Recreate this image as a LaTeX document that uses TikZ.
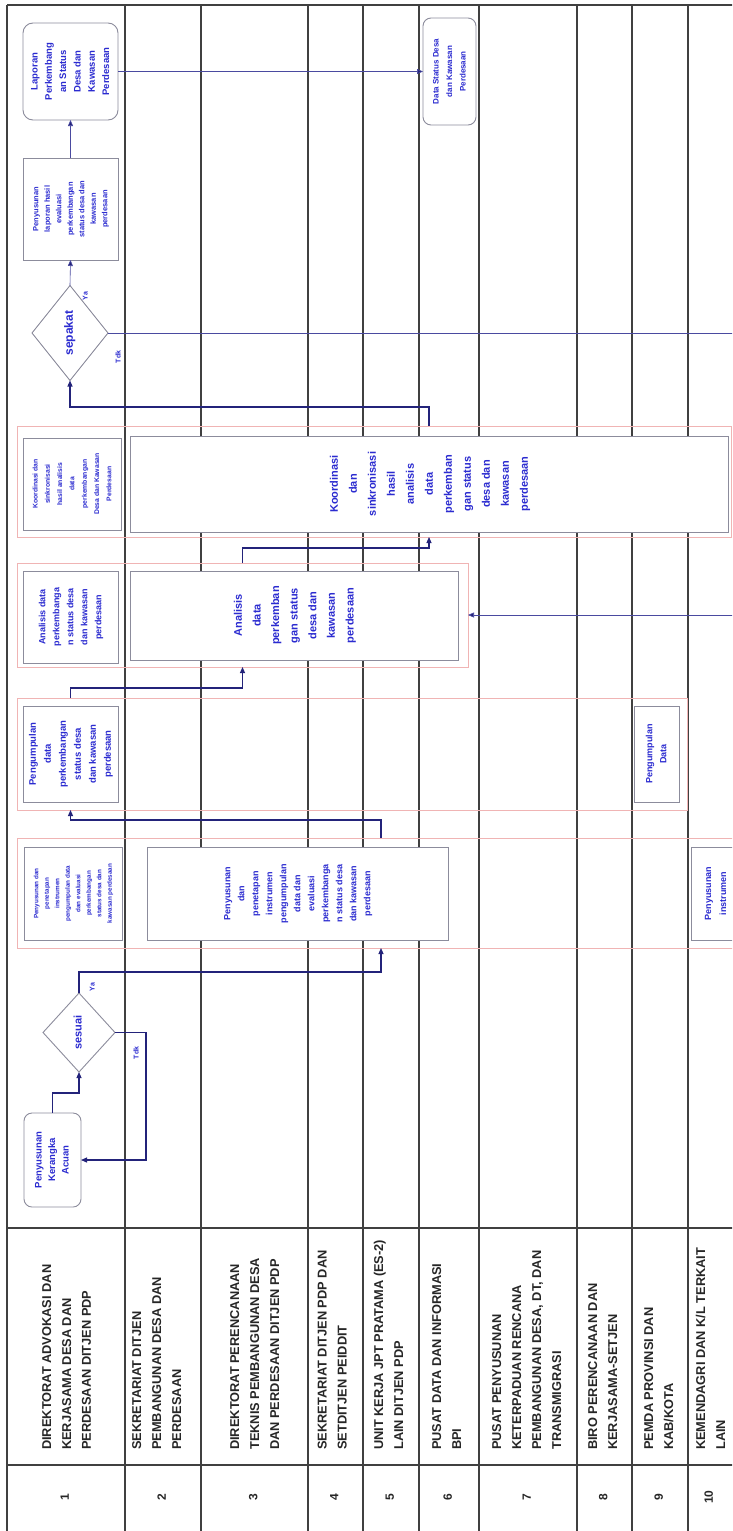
\documentclass[tikz,border=0pt]{standalone}
\usepackage{graphicx}
\usepackage{fontspec}
\setmainfont{Liberation Sans}
\usetikzlibrary{shapes.geometric,arrows.meta,calc}
\definecolor{lanec}{HTML}{404040}
\definecolor{boxc}{HTML}{8C8C9C}
\definecolor{bandc}{HTML}{F0B4B4}
\definecolor{conc}{HTML}{23237A}
\definecolor{thinc}{HTML}{4A4AA0}
\definecolor{txtc}{HTML}{2B2BD0}
\newcommand{\rtx}[4]{\rotatebox{90}{\fontsize{#1}{#2}\selectfont\begin{tabular}{@{}#3@{}}#4\end{tabular}}}
\tikzset{
 lane/.style={draw=lanec, line width=1.4pt},
 band/.style={draw=bandc, line width=0.7pt, inner sep=0pt, outer sep=0pt},
 pbox/.style={draw=boxc, line width=0.9pt, fill=white, inner sep=0pt, outer sep=0pt, text=txtc, font=\bfseries},
 rbox/.style={pbox},
 dec/.style={pbox, shape=diamond},
 conn/.style={draw=conc, line width=1.1pt},
 arr/.style={conn, -{Triangle[length=6pt,width=5pt]}},
 thin/.style={draw=thinc, line width=0.6pt},
 tarr/.style={thin, -{Triangle[length=6pt,width=5pt,fill=conc]}},
 lbl/.style={text=txtc, font=\bfseries, inner sep=0pt},
 head/.style={text=black!85, font=\bfseries, inner sep=0pt, anchor=south},
 num/.style={text=black!85, font=\bfseries, inner sep=0pt},
}
\begin{document}
\begin{tikzpicture}[x=1pt,y=-1pt]
\useasboundingbox (0,0) rectangle (732,1531);
\clip (0,0) rectangle (732,1531);
\fill[white] (0,0) rectangle (732,1531);

% lane grid
\foreach \x in {7,125,201,308,363,419,479,577,632,688}
  \draw[lane] (\x,5) -- (\x,1540);
\draw[lane] (7,5) -- (740,5);
\draw[lane] (7,1228) -- (740,1228);
\draw[lane] (7,1465) -- (740,1465);

% group bands
\node[band, minimum width=714, minimum height=111] (kband) at (374,481.5) {};
\node[band, minimum width=451, minimum height=104] (aband) at (242.5,615) {};
\node[band, minimum width=670, minimum height=112] (pband) at (352,754) {};
\node[band, minimum width=743, minimum height=110] (sband) at (388.5,893) {};

% boxes
\node[rbox, rounded corners=10pt, minimum width=95, minimum height=97] (lap) at (70.5,71.5)
  {\rtx{9.5}{14.3}{c}{Laporan\\Perkembang\\an Status\\Desa dan\\Kawasan\\Perdesaan}};
\node[pbox, minimum width=95, minimum height=102] (plap) at (70.5,209)
  {\rtx{7.5}{11.5}{c}{Penyusunan\\laporan hasil\\evaluasi\\perkembangan\\status desa dan\\kawasan\\perdesaan}};
\node[dec, minimum width=76, minimum height=95] (sepakat) at (70,333) {\rtx{12}{14}{c}{sepakat}};
\node[rbox, rounded corners=8pt, minimum width=53, minimum height=107] (dstat) at (449.5,71.5)
  {\rtx{8}{13.5}{c}{Data Status Desa\\dan Kawasan\\Perdesaan}};

\node[pbox, minimum width=98, minimum height=92] (ksmall) at (72,484)
  {\rtx{6.8}{12.3}{c}{Koordinasi dan\\sinkronisasi\\hasil analisis\\data\\perkembangan\\Desa dan Kawasan\\Perdesaan}};
\node[pbox, minimum width=598, minimum height=96] (kbig) at (429,484)
  {\rtx{11}{19}{c}{Koordinasi\\dan\\sinkronisasi\\hasil\\analisis\\data\\perkemban\\gan status\\desa dan\\kawasan\\perdesaan}};

\node[pbox, minimum width=95, minimum height=92] (asmall) at (70.5,617)
  {\rtx{9}{14}{c}{Analisis data\\perkembanga\\n status desa\\dan kawasan\\perdesaan}};
\node[pbox, minimum width=328, minimum height=89] (abig) at (294,615.5)
  {\rtx{11}{18.6}{c}{Analisis\\data\\perkemban\\gan status\\desa dan\\kawasan\\perdesaan}};

\node[pbox, minimum width=95, minimum height=96] (psmall) at (70.5,754)
  {\rtx{9.5}{15}{c}{Pengumpulan\\data\\perkembangan\\status desa\\dan kawasan\\perdesaan}};
\node[pbox, minimum width=45, minimum height=96] (p9) at (656.5,754)
  {\rtx{9}{14}{c}{Pengumpulan\\Data}};

\node[pbox, minimum width=98, minimum height=93] (ssmall) at (73,893.5)
  {\rtx{6.3}{10.5}{c}{Penyusunan dan\\penetapan\\instrumen\\pengumpulan data\\dan evaluasi\\perkembangan\\status desa dan\\kawasan perdesaan}};
\node[pbox, minimum width=301, minimum height=93] (sbig) at (297.5,893.5)
  {\rtx{9}{14}{c}{Penyusunan\\dan\\penetapan\\instrumen\\pengumpulan\\data dan\\evaluasi\\perkembanga\\n status desa\\dan kawasan\\perdesaan}};
\node[pbox, minimum width=49, minimum height=93] (s10) at (715.5,893.5)
  {\rtx{9}{15}{c}{Penyusunan\\instrumen}};

\node[dec, minimum width=72, minimum height=79] (sesuai) at (79,1032.5) {\rtx{11}{13}{c}{sesuai}};
\node[rbox, rounded corners=8pt, minimum width=57, minimum height=94] (kera) at (52.5,1160)
  {\rtx{9.5}{13.5}{c}{Penyusunan\\Kerangka\\Acuan}};

% decision labels
\node[lbl] (ya1) at (86,296) {\rtx{7}{8}{c}{Ya}};
\node[lbl] (tdk1) at (119,357) {\rtx{7}{8}{c}{Tdk}};
\node[lbl] (ya2) at (93,987) {\rtx{7}{8}{c}{Ya}};
\node[lbl] (tdk2) at (137,1053) {\rtx{7}{8}{c}{Tdk}};

% connectors
\draw[tarr] (plap.north) -- (lap.south);
\draw[tarr] (sepakat.north) -- (plap.south);
\draw[tarr] (lap.east) -- (dstat.west);
\coordinate (tdkA) at (740,333);
\coordinate (tdkB) at (740,615);
\draw[thin] (sepakat.east) -- (tdkA);
\draw[tarr] (tdkB) -- (aband.east);
\draw[arr] (kbig.north |- kband.north) -- ++(0,-19) -| (sepakat.south);
\draw[arr] (aband.north) -- ++(0,-15) -| (kbig.south |- kband.south);
\draw[arr] (psmall.north |- pband.north) -- ++(0,-10) -| (aband.south);
\coordinate (sx) at ([xshift=83.5pt]sbig.north);
\draw[arr] (sx |- sband.north) -- ++(0,-18) -| (psmall.south |- pband.south);
\draw[arr] (sesuai.north) -- ++(0,-21) -| (sx |- sband.south);
\draw[arr] (sesuai.east) -- ++(31,0) |- (kera.east);
\draw[arr] (kera.north) -- ++(0,-20) -| (sesuai.south);

% header texts
\node[head] (h1) at (67,1450) {\rtx{12.8}{20}{l}{DIREKTORAT ADVOKASI DAN\\KERJASAMA DESA DAN\\PERDESAAN DITJEN PDP}};
\node[head] (h2) at (157,1450) {\rtx{12.8}{20}{l}{SEKRETARIAT DITJEN\\PEMBANGUNAN DESA DAN\\PERDESAAN}};
\node[head] (h3) at (255,1450) {\rtx{12.8}{20}{l}{DIREKTORAT PERENCANAAN\\TEKNIS PEMBANGUNAN DESA\\DAN PERDESAAN DITJEN PDP}};
\node[head] (h4) at (332.5,1450) {\rtx{12.8}{20}{l}{SEKRETARIAT DITJEN PDP DAN\\SETDITJEN PEIDDIT}};
\node[head] (h5) at (389,1450) {\rtx{12.8}{20}{l}{UNIT KERJA JPT PRATAMA (ES-2)\\LAIN DITJEN PDP}};
\node[head] (h6) at (447,1450) {\rtx{12.8}{20}{l}{PUSAT DATA DAN INFORMASI\\BPI}};
\node[head] (h7) at (527,1450) {\rtx{12.8}{20}{l}{PUSAT PENYUSUNAN\\KETERPADUAN RENCANA\\PEMBANGUNAN DESA, DT, DAN\\TRANSMIGRASI}};
\node[head] (h8) at (603,1450) {\rtx{12.8}{20}{l}{BIRO PERENCANAAN DAN\\KERJASAMA-SETJEN}};
\node[head] (h9) at (659,1450) {\rtx{12.8}{20}{l}{PEMDA PROVINSI DAN\\KAB/KOTA}};
\node[head] (h10) at (711,1450) {\rtx{12.8}{20}{l}{KEMENDAGRI DAN K/L TERKAIT\\LAIN}};

% lane numbers
\foreach \n/\x in {1/66,2/163,3/254.5,4/335.5,5/391,6/449,7/528,8/604.5,9/660,10/710}
  \node[num] (num\n) at (\x,1497) {\rtx{12}{14}{c}{\n}};
\end{tikzpicture}
\end{document}
